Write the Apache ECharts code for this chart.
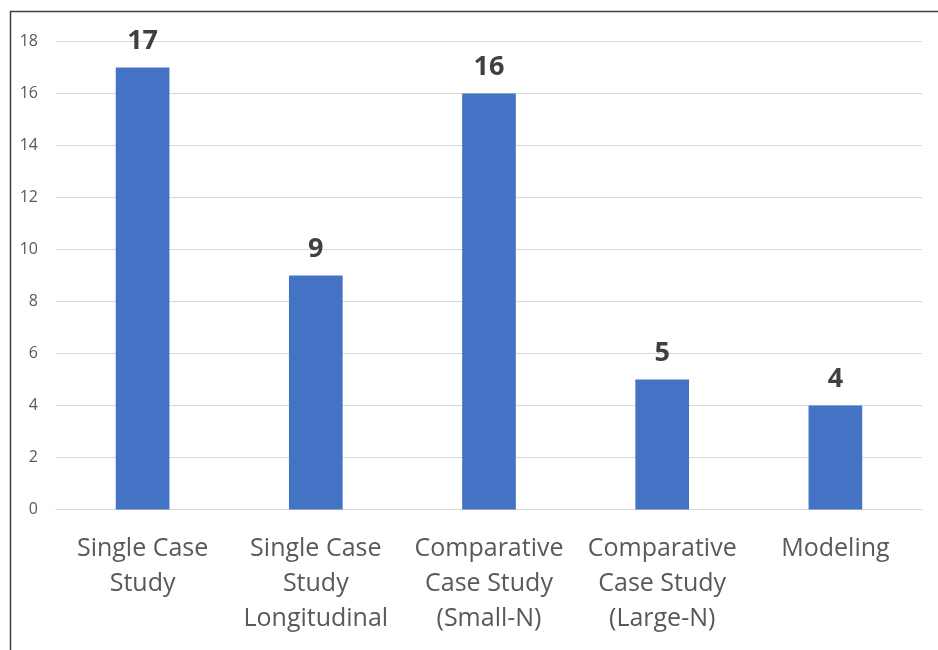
<!DOCTYPE html>
<html><head><meta charset="utf-8">
<script src="https://cdn.jsdelivr.net/npm/echarts@6/dist/echarts.min.js"></script>
<style>html,body{margin:0;padding:0;background:#fff;}#c{width:938px;height:650px;}</style>
</head><body><div id="c"></div>
<script>
const categories = ["Single Case\nStudy", "Single Case\nStudy\nLongitudinal", "Comparative\nCase Study\n(Small-N)", "Comparative\nCase Study\n(Large-N)", "Modeling"];
const values = [17, 9, 16, 5, 4];
const yTicks = { min: 0, max: 18, interval: 2 };

const chart = echarts.init(document.getElementById('c'), null, { renderer: 'canvas' });
chart.setOption({
  animation: false,
  backgroundColor: '#fff',
  graphic: [
    { type: 'polyline', shape: { points: [[10.5, 660], [10.5, 11.5], [950, 11.5]] }, style: { stroke: '#404040', lineWidth: 1.5, fill: null } }
  ],
  grid: { left: 56, right: 16, top: 41.5, bottom: 140.5, containLabel: false },
  xAxis: {
    type: 'category', data: categories,
    axisLine: { show: true, lineStyle: { color: '#d9d9d9', width: 1 } },
    axisTick: { show: false },
    axisLabel: { color: '#595959', fontSize: 25, lineHeight: 35, fontFamily: 'Open Sans', margin: 22, interval: 0 }
  },
  yAxis: {
    type: 'value', min: yTicks.min, max: yTicks.max, interval: yTicks.interval,
    axisLine: { show: false }, axisTick: { show: false },
    splitLine: { lineStyle: { color: '#d9d9d9', width: 1 } },
    axisLabel: { color: '#595959', fontSize: 16, fontFamily: 'Open Sans', margin: 18 }
  },
  series: [{
    type: 'bar', data: values, barWidth: '31%',
    itemStyle: { color: '#4472c4' },
    label: { show: true, position: 'top', distance: 13, color: '#404040', fontSize: 27, fontWeight: 'bold', fontFamily: 'Open Sans' }
  }]
});
</script></body></html>
